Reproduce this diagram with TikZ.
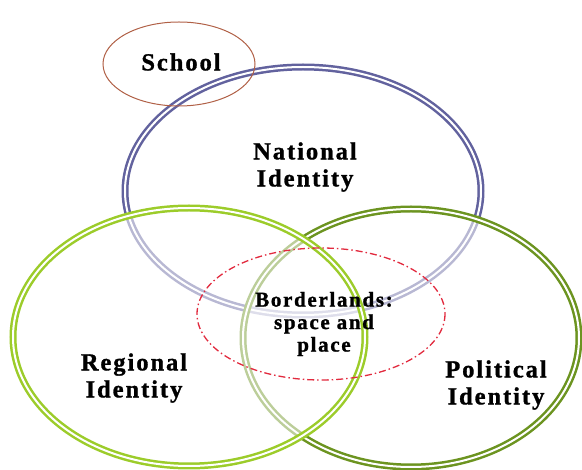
\documentclass[tikz,border=0pt]{standalone}
\usepackage{fontspec}
\newfontfamily\labelfont[LetterSpace=8, FakeBold=1.2]{Liberation Serif Bold}
\definecolor{natblue}{RGB}{98,98,158}
\definecolor{reggreen}{RGB}{156,204,42}
\definecolor{polgreen}{RGB}{108,148,32}
\definecolor{schoolbrown}{RGB}{176,96,70}
\definecolor{borderred}{RGB}{226,42,62}
\tikzset{
  ring/.style={line width=2.5pt, double=white, double distance=2pt,
               fill=white, fill opacity=0.55, draw opacity=1},
  caption/.style={align=center, text=black,
                  font=\labelfont\fontsize{24.5}{27}\selectfont},
  smallcaption/.style={align=center, text=black,
                  font=\labelfont\fontsize{21}{22.5}\selectfont}
}
\begin{document}
\begin{tikzpicture}[x=1pt,y=-1pt]
  \useasboundingbox (0,0) rectangle (582,470);
  % identity rings
  \path[ring, draw=natblue]   (303,191) ellipse [x radius=178, y radius=124];
  \path[ring, draw=polgreen]  (411,338) ellipse [x radius=168, y radius=129];
  \path[ring, draw=reggreen]  (189,337) ellipse [x radius=176, y radius=129];
  % borderlands and school
  \draw[borderred, line width=1.3pt, dash pattern=on 7pt off 3pt on 1.5pt off 3pt]
        (321,314) ellipse [x radius=124, y radius=66];
  \draw[schoolbrown, line width=1pt] (179,64) ellipse [x radius=76, y radius=42];
  % labels
  \node[caption] (school)    at (181,62)  {School};
  \node[caption] (national)  at (305,167) {National\\Identity};
  \node[caption] (regional)  at (134,378) {Regional\\Identity};
  \node[caption] (political) at (496,385) {Political\\Identity};
  \node[smallcaption] (border) at (324,324) {Borderlands:\\space and\\place};
\end{tikzpicture}
\end{document}
